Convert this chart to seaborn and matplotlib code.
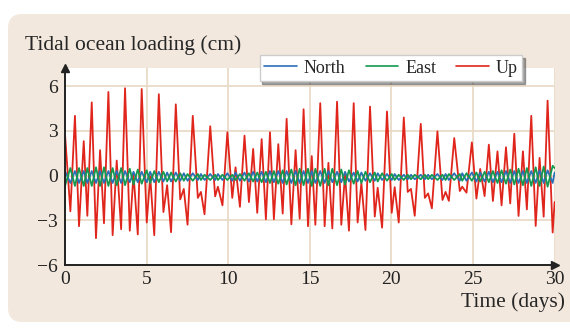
import matplotlib.pyplot as plt
import seaborn as sns
import pandas as pd
from matplotlib.patches import FancyBboxPatch
from matplotlib.lines import Line2D

# times (days) of the turning points
up_t = [0.00, 0.33, 0.61, 0.86, 1.15, 1.37, 1.64, 1.90, 2.15, 2.39,
        2.66, 2.92, 3.17, 3.44, 3.68, 3.97, 4.20, 4.46, 4.70, 5.01,
        5.22, 5.47, 5.75, 6.03, 6.26, 6.50, 6.79, 7.06, 7.28, 7.51,
        7.83, 8.14, 8.33, 8.55, 8.90, 9.20, 9.37, 9.65, 9.95, 10.25,
        10.45, 10.72, 11.00, 11.27, 11.53, 11.78, 12.05, 12.31, 12.56, 12.80,
        13.07, 13.34, 13.58, 13.87, 14.13, 14.38, 14.62, 14.89, 15.12, 15.34,
        15.64, 15.91, 16.14, 16.38, 16.67, 16.93, 17.16, 17.40, 17.69, 17.93,
        18.16, 18.41, 18.69, 18.98, 19.16, 19.43, 19.73, 20.02, 20.20, 20.45,
        20.76, 21.00, 21.20, 21.43, 21.80, 22.05, 22.25, 22.48, 22.82, 23.13,
        23.32, 23.52, 23.85, 24.19, 24.34, 24.60, 24.93, 25.21, 25.44, 25.71,
        25.97, 26.22, 26.50, 26.75, 27.02, 27.28, 27.53, 27.79, 28.06, 28.30,
        28.57, 28.84, 29.08, 29.33, 29.57, 29.88, 30.00]

up_v = [2.8, -2.4, 4.0, -3.4, 2.3, -2.7, 4.9, -4.2, 1.7, -3.2,
        5.6, -4.0, 1.0, -3.6, 5.85, -3.7, 0.1, -3.95, 5.8, -3.15,
        -0.05, -4.0, 5.45, -2.45, -0.65, -3.8, 4.77, -1.6, -0.9, -3.3,
        4.0, -1.5, -1.1, -2.6, 3.3, -1.4, -0.75, -2.0, 2.9, -1.5,
        0.55, -2.1, 2.67, -1.78, 1.78, -2.5, 2.44, -2.93, 2.9, -2.93,
        2.1, -2.55, 3.8, -3.27, 1.7, -2.9, 4.44, -3.4, 1.3, -3.3,
        4.85, -3.4, 0.85, -3.55, 4.95, -3.3, 0.07, -3.7, 4.85, -3.15,
        -0.5, -3.65, 4.62, -2.75, -0.82, -3.5, 4.29, -2.5, -0.78, -3.15,
        3.89, -1.1, -0.9, -2.7, 3.46, -1.5, -1.2, -2.2, 2.96, -1.64,
        -1.1, -1.7, 2.51, -1.04, -0.75, -1.15, 2.22, -1.55, 0.44, -1.38,
        2.07, -1.71, 1.62, -2.0, 1.89, -1.87, 2.8, -2.71, 1.62, -2.27,
        4.0, -3.38, 1.18, -2.76, 5.02, -3.82, -1.78]

north_v = [0.3, -0.5, 0.3, -0.5, 0.3, -0.5, 0.3, -0.5, 0.3, -0.5,
           0.3, -0.5, 0.3, -0.5, 0.3, -0.45, 0.25, -0.45, 0.25, -0.45,
           0.25, -0.45, 0.25, -0.4, 0.2, -0.4, 0.2, -0.35, 0.15, -0.35,
           0.15, -0.3, 0.1, -0.3, 0.1, -0.3, 0.1, -0.3, 0.15, -0.35,
           0.2, -0.35, 0.2, -0.4, 0.25, -0.4, 0.25, -0.45, 0.3, -0.45,
           0.3, -0.5, 0.3, -0.5, 0.3, -0.5, 0.3, -0.5, 0.3, -0.5,
           0.3, -0.5, 0.3, -0.45, 0.25, -0.45, 0.25, -0.4, 0.2, -0.4,
           0.2, -0.35, 0.15, -0.35, 0.15, -0.3, 0.1, -0.3, 0.1, -0.3,
           0.05, -0.25, 0.05, -0.25, 0.05, -0.25, 0.05, -0.25, 0.1, -0.3,
           0.1, -0.3, 0.15, -0.35, 0.15, -0.35, 0.2, -0.4, 0.2, -0.4,
           0.25, -0.45, 0.25, -0.45, 0.3, -0.5, 0.3, -0.5, 0.3, -0.5,
           0.3, -0.5, 0.35, -0.5, 0.35, -0.5, 0.2]

east_v = [-0.7, 0.5, -0.7, 0.5, -0.7, 0.5, -0.7, 0.55, -0.7, 0.55,
          -0.7, 0.5, -0.65, 0.5, -0.65, 0.45, -0.6, 0.4, -0.55, 0.35,
          -0.5, 0.3, -0.45, 0.25, -0.4, 0.2, -0.4, 0.15, -0.35, 0.1,
          -0.35, 0.1, -0.3, 0.05, -0.3, 0.05, -0.3, 0.05, -0.3, 0.05,
          -0.3, 0.1, -0.35, 0.15, -0.4, 0.2, -0.45, 0.25, -0.5, 0.3,
          -0.55, 0.35, -0.6, 0.4, -0.65, 0.45, -0.65, 0.45, -0.7, 0.45,
          -0.7, 0.45, -0.65, 0.45, -0.65, 0.4, -0.6, 0.35, -0.55, 0.3,
          -0.5, 0.25, -0.45, 0.2, -0.4, 0.15, -0.35, 0.1, -0.3, 0.05,
          -0.3, 0.05, -0.25, 0.05, -0.25, 0.05, -0.25, 0.05, -0.3, 0.05,
          -0.3, 0.1, -0.3, 0.1, -0.35, 0.15, -0.35, 0.2, -0.4, 0.25,
          -0.45, 0.3, -0.5, 0.35, -0.55, 0.4, -0.6, 0.45, -0.65, 0.5,
          -0.7, 0.55, -0.7, 0.6, -0.75, 0.65, 0.5]

components = ['North', 'East', 'Up']
colors = {'North': '#2b6fb6', 'East': '#139a4f', 'Up': '#e0261c'}
x_ticks = [0, 5, 10, 15, 20, 25, 30]
y_ticks = [-6, -3, 0, 3, 6]
y_labels = ['\u22126', '\u22123', '0', '3', '6']

n = len(up_t)
df = pd.DataFrame({
    't': up_t * 3,
    'v': up_v + north_v + east_v,
    'comp': ['Up'] * n + ['North'] * n + ['East'] * n,
})

sns.set_theme(style='white')
plt.rcParams['font.family'] = ['Liberation Serif', 'DejaVu Serif']

fig = plt.figure(figsize=(5.7, 3.29), dpi=100)
fig.patch.set_facecolor('white')
bg = FancyBboxPatch((8 / 570, 7 / 329), 1.2, 308 / 329, transform=fig.transFigure,
                    boxstyle='round,pad=0,rounding_size=0.025', mutation_aspect=570 / 329,
                    facecolor='#f3e8dd', edgecolor='none', zorder=-10)
fig.patches.append(bg)

ax = fig.add_axes([0.114, 0.1945, 0.859, 0.5985])
ax.set_facecolor('white')
sns.lineplot(data=df, x='t', y='v', hue='comp', hue_order=['Up', 'North', 'East'],
             palette=colors, estimator=None, sort=False, lw=1.3, legend=False, ax=ax,
             solid_joinstyle='round')

ax.set_xlim(0, 30)
ax.set_ylim(-6, 7.2)
ax.set_xticks(x_ticks)
ax.set_yticks(y_ticks)
ax.set_yticklabels(y_labels)
ax.set_xlabel('')
ax.set_ylabel('')
ax.grid(True, color='#eadbc7', lw=1.3)
ax.set_axisbelow(True)
ax.tick_params(length=0, labelsize=14, colors='#222222')
ax.tick_params(axis='x', pad=4)
ax.tick_params(axis='y', pad=5)
for s in ['top', 'right']:
    ax.spines[s].set_visible(False)
for s in ['left', 'bottom']:
    ax.spines[s].set_color('#222222')
    ax.spines[s].set_linewidth(1.4)
ax.plot(0, 1, marker='^', color='#222222', ms=6, transform=ax.transAxes, clip_on=False)
ax.plot(1, 0, marker='>', color='#222222', ms=6, transform=ax.transAxes, clip_on=False)

handles = [Line2D([], [], color=colors[c], lw=1.2) for c in components]
fig.legend(handles, components, ncol=3, loc='center', bbox_to_anchor=(0.686, 0.793),
           frameon=True, shadow=True, fancybox=False, fontsize=13, handlelength=1.8,
           handletextpad=0.4, columnspacing=1.1, borderpad=0.25, edgecolor='#cccccc')

fig.text(25 / 570, 1 - 45 / 329, 'Tidal ocean loading (cm)', fontsize=15.5, va='center')
fig.text(565 / 570, 1 - 302 / 329, 'Time (days)', fontsize=15.5, ha='right', va='center')

fig.savefig('out.png', dpi=100, facecolor=fig.get_facecolor())
